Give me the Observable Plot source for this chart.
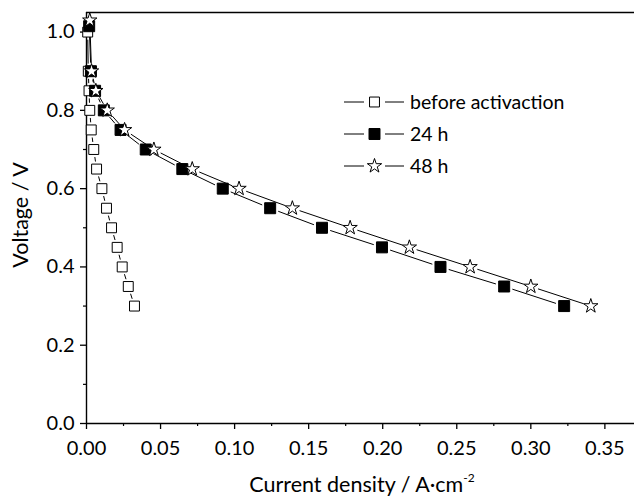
<!DOCTYPE html>
<html><head><meta charset="utf-8">
<script src="https://cdn.jsdelivr.net/npm/d3@7"></script>
<script src="https://cdn.jsdelivr.net/npm/@observablehq/plot@0.6"></script>
<style>
html,body{margin:0;padding:0;background:#fff;overflow:hidden}
#chart svg{display:block}
</style>
</head><body><div id="chart"></div>
<script>
// ---- data ----
const seriesNames = ["before activaction", "24 h", "48 h"];

const beforeCurrent = [0.0008, 0.0012, 0.0017, 0.0022, 0.0032, 0.0049, 0.0068, 0.0104, 0.0135, 0.0169, 0.0207, 0.0241, 0.0282, 0.0324];
const beforeVoltage = [1.00, 0.90, 0.85, 0.80, 0.75, 0.70, 0.65, 0.60, 0.55, 0.50, 0.45, 0.40, 0.35, 0.30];

const h24Current = [0.0018, 0.0030, 0.0058, 0.0117, 0.0230, 0.0400, 0.0647, 0.0920, 0.1240, 0.1590, 0.1995, 0.2390, 0.2820, 0.3225];
const h24Voltage = [1.015, 0.90, 0.85, 0.80, 0.75, 0.70, 0.65, 0.60, 0.55, 0.50, 0.45, 0.40, 0.35, 0.30];

const h48Current = [0.0022, 0.0034, 0.0063, 0.0140, 0.0257, 0.0455, 0.0714, 0.1030, 0.1390, 0.1780, 0.2180, 0.2590, 0.3000, 0.3405];
const h48Voltage = [1.03, 0.90, 0.85, 0.80, 0.75, 0.70, 0.65, 0.60, 0.55, 0.50, 0.45, 0.40, 0.35, 0.30];

const xDomain = [0, 0.37];
const yDomain = [0, 1.05];
const xTickValues = [0, 0.05, 0.10, 0.15, 0.20, 0.25, 0.30, 0.35];
const xMinorTickValues = [0.025, 0.075, 0.125, 0.175, 0.225, 0.275, 0.325];
const yTickValues = [0, 0.2, 0.4, 0.6, 0.8, 1.0];
const yMinorTickValues = [0.1, 0.3, 0.5, 0.7, 0.9];
const xLabel = "Current density / A·cm";
const xLabelSup = "-2";
const yLabel = "Voltage / V";

// ---- build tables ----
const seriesData = [
  {name: seriesNames[0], I: beforeCurrent, V: beforeVoltage},
  {name: seriesNames[1], I: h24Current, V: h24Voltage},
  {name: seriesNames[2], I: h48Current, V: h48Voltage}
];
const styles = {
  [seriesNames[0]]: {symbol: "square", r: 5.6, fill: "white", gap: 8},
  [seriesNames[1]]: {symbol: "square", r: 6.2, fill: "black", gap: 9},
  [seriesNames[2]]: {symbol: "star", r: 4.5, fill: "white", gap: 8}
};
const points = seriesData.flatMap(s => s.I.map((c, i) => ({series: s.name, I: c, V: s.V[i]})));
const segments = seriesData.flatMap(s => s.I.slice(1).map((c, i) => ({series: s.name, I1: s.I[i], V1: s.V[i], I2: c, V2: s.V[i + 1]})));

const FONT = "Lato, 'Open Sans', sans-serif";
const TICK_FS = 20;
const TITLE_FS = 21.5;
const LEGEND_FS = 19.5;

const marks = [
  Plot.ruleY([yDomain[0]], {stroke: "black", strokeWidth: 1.4}),
  Plot.ruleY([yDomain[1]], {stroke: "black", strokeWidth: 1.4}),
  Plot.ruleX([xDomain[0]], {stroke: "black", strokeWidth: 1.4}),
  Plot.axisX({ticks: xTickValues, tickFormat: d3.format(".2f"), tickSize: 6, tickPadding: 11, fontSize: TICK_FS, label: null, strokeWidth: 1.3}),
  Plot.axisX({ticks: xMinorTickValues, tickFormat: () => "", tickSize: 3, label: null, strokeWidth: 1.2}),
  Plot.axisY({ticks: yTickValues, tickFormat: d3.format(".1f"), tickSize: 6, tickPadding: 6, fontSize: TICK_FS, label: null, strokeWidth: 1.3}),
  Plot.axisY({ticks: yMinorTickValues, tickFormat: () => "", tickSize: 3, label: null, strokeWidth: 1.2})
];
for (const s of seriesData) {
  const st = styles[s.name];
  marks.push(Plot.arrow(segments.filter(d => d.series === s.name), {
    x1: "I1", y1: "V1", x2: "I2", y2: "V2",
    insetStart: st.gap, insetEnd: st.gap, headLength: 0,
    stroke: "black", strokeWidth: 1
  }));
}
for (const s of seriesData) {
  const st = styles[s.name];
  marks.push(Plot.dot(points.filter(d => d.series === s.name), {
    x: "I", y: "V", symbol: st.symbol, r: st.r,
    fill: st.fill, stroke: "black", strokeWidth: 1
  }));
}

const plot = Plot.plot({
  width: 634, height: 501,
  marginLeft: 86, marginRight: 0, marginTop: 12, marginBottom: 78,
  x: {domain: xDomain},
  y: {domain: yDomain},
  style: {fontFamily: FONT, fontSize: TICK_FS + "px", color: "black", background: "white"},
  marks
});
document.getElementById("chart").appendChild(plot);

// ---- axis titles and legend ----
const svg = d3.select(plot);
const xt = svg.append("text")
  .attr("x", 362).attr("y", 492)
  .attr("text-anchor", "middle")
  .attr("font-family", FONT).attr("font-size", TITLE_FS)
  .attr("fill", "black");
xt.append("tspan").text(xLabel);
xt.append("tspan").attr("dy", -10).attr("font-size", 12).text(xLabelSup);

svg.append("text")
  .attr("transform", "translate(28,215) rotate(-90)")
  .attr("text-anchor", "middle")
  .attr("font-family", FONT).attr("font-size", TITLE_FS)
  .attr("fill", "black")
  .text(yLabel);

const legendRows = [102, 134, 166];
const lg = svg.append("g").attr("text-anchor", "start");
seriesData.forEach((s, k) => {
  const st = styles[s.name];
  const y = legendRows[k];
  lg.append("line").attr("x1", 344).attr("x2", 364).attr("y1", y).attr("y2", y).attr("stroke", "black");
  lg.append("line").attr("x1", 385).attr("x2", 404).attr("y1", y).attr("y2", y).attr("stroke", "black");
  const sym = st.symbol === "star" ? d3.symbolStar : d3.symbolSquare;
  lg.append("path")
    .attr("d", d3.symbol(sym, st.r * st.r * Math.PI)())
    .attr("transform", `translate(374.5,${y})`)
    .attr("fill", st.fill).attr("stroke", "black").attr("stroke-width", 1);
  lg.append("text").attr("x", 410).attr("y", y).attr("dy", "0.36em")
    .attr("text-anchor", "start")
    .attr("font-family", FONT).attr("font-size", LEGEND_FS).attr("fill", "black")
    .text(s.name);
});
</script>
</body></html>
